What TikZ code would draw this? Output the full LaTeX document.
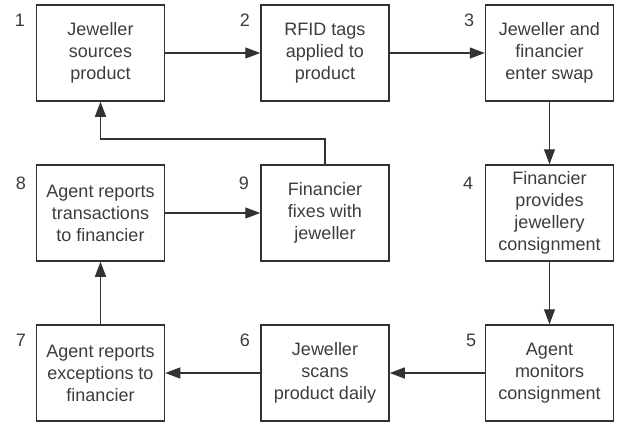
\documentclass[tikz,border=0pt]{standalone}
\usepackage{fontspec}
\setmainfont{Liberation Sans}
\usetikzlibrary{arrows.meta}
\definecolor{ink}{RGB}{50,50,50}
\definecolor{txt}{RGB}{60,60,60}
\begin{document}
\begin{tikzpicture}[x=1pt,y=-1pt,
  stepbox/.style={draw=ink,line width=1.5pt,minimum width=128pt,minimum height=96pt,
    align=center,inner sep=0pt,text=txt,font=\fontsize{18}{22}\selectfont},
  num/.style={text=txt,font=\fontsize{18}{22}\selectfont,inner sep=0pt},
  arr/.style={draw=ink,line width=1.3pt,-{Triangle[length=15pt,width=11pt]}}]
\useasboundingbox (0,0) rectangle (617,424);
\node[stepbox] (n1) at (100.5,53) {Jeweller\\sources\\product};
\node[stepbox] (n2) at (325,53) {RFID tags\\applied to\\product};
\node[stepbox] (n3) at (549.5,53) {Jeweller and\\financier\\enter swap};
\node[stepbox] (n8) at (100.5,213) {Agent reports\\transactions\\to financier};
\node[stepbox] (n9) at (325,213) {Financier\\fixes with\\jeweller};
\node[stepbox] (n4) at (549.5,213) {Financier\\provides\\jewellery\\consignment};
\node[stepbox] (n7) at (100.5,373) {Agent reports\\exceptions to\\financier};
\node[stepbox] (n6) at (325,373) {Jeweller\\scans\\product daily};
\node[stepbox] (n5) at (549.5,373) {Agent\\monitors\\consignment};
\node[num] (l1) at (20,20) {1};
\node[num] (l2) at (245,20) {2};
\node[num] (l3) at (469,20) {3};
\node[num] (l8) at (21,183) {8};
\node[num] (l9) at (244,183) {9};
\node[num] (l4) at (468,183) {4};
\node[num] (l7) at (21,340) {7};
\node[num] (l6) at (245,340) {6};
\node[num] (l5) at (471,340) {5};
\coordinate (fb) at (200,139);
\draw[arr] (n1) -- (n2);
\draw[arr] (n2) -- (n3);
\draw[arr] (n3) -- (n4);
\draw[arr] (n4) -- (n5);
\draw[arr] (n5) -- (n6);
\draw[arr] (n6) -- (n7);
\draw[arr] (n7) -- (n8);
\draw[arr] (n8) -- (n9);
\draw[arr] (n9.north) |- (fb) -| (n1.south);
\end{tikzpicture}
\end{document}
